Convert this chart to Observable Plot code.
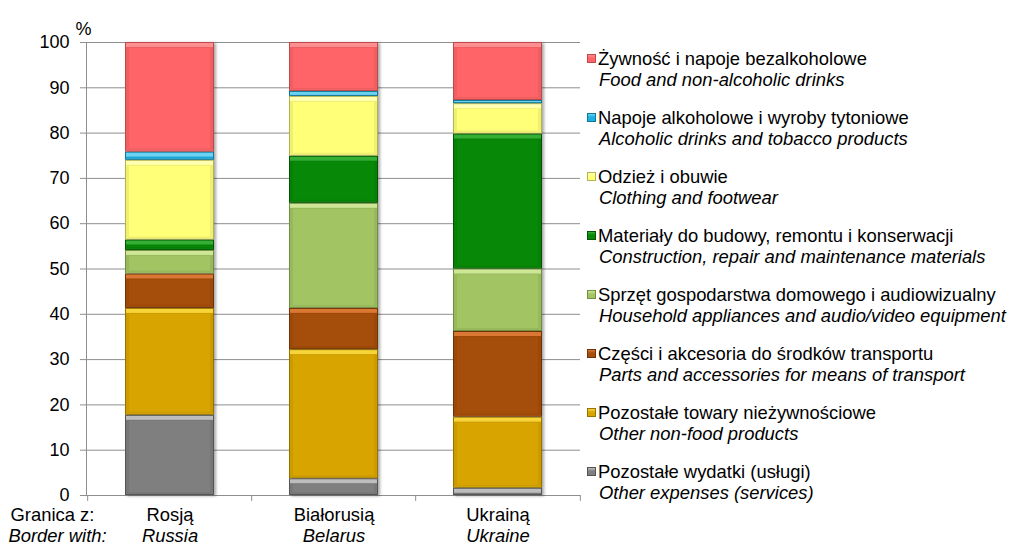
<!DOCTYPE html>
<html>
<head>
<meta charset="utf-8">
<script src="https://cdn.jsdelivr.net/npm/d3@7"></script>
<script src="https://cdn.jsdelivr.net/npm/@observablehq/plot@0.6"></script>
<style>
  html, body { margin: 0; padding: 0; background: #fff; }
  #wrap { position: relative; width: 1014px; height: 548px; font-family: "Liberation Sans", Arial, sans-serif; }
  #legend { position: absolute; left: 587px; top: 0; }
  .entry { position: absolute; left: 0; white-space: nowrap; font-size: 18.4px; line-height: 21px; color: #000; }
  .entry .pl { position: relative; padding-left: 11px; }
  .entry .en { padding-left: 12px; font-style: italic; }
  .sw { position: absolute; left: 0; top: 6px; width: 7px; height: 7px; border: 1px solid; }
</style>
</head>
<body>
<div id="wrap"><div id="legend"></div></div>
<script>
// ---- data ----
const countries = ["Rosją", "Białorusią", "Ukrainą"];
const countriesEn = ["Russia", "Belarus", "Ukraine"];
const borderPl = "Granica z:";
const borderEn = "Border with:";
// series in stacking order (bottom to top)
const seriesPl = [
  "Pozostałe wydatki (usługi)",
  "Pozostałe towary nieżywnościowe",
  "Części i akcesoria do środków transportu",
  "Sprzęt gospodarstwa domowego i audiowizualny",
  "Materiały do budowy, remontu i konserwacji",
  "Odzież i obuwie",
  "Napoje alkoholowe i wyroby tytoniowe",
  "Żywność i napoje bezalkoholowe"
];
const seriesEn = [
  "Other expenses (services)",
  "Other non-food products",
  "Parts and accessories for means of transport",
  "Household appliances and audio/video equipment",
  "Construction, repair and maintenance materials",
  "Clothing and footwear",
  "Alcoholic drinks and tobacco products",
  "Food and non-alcoholic drinks"
];
const services     = [17.7,  3.7,  1.6];
const otherNonFood = [23.6, 28.5, 15.7];
const transport    = [ 7.6,  9.1, 18.9];
const household    = [ 5.2, 23.2, 13.8];
const construction = [ 2.3, 10.4, 29.8];
const clothing     = [17.6, 13.2,  6.7];
const alcohol      = [ 1.8,  1.1,  0.7];
const food         = [24.2, 10.8, 12.8];
const yTicks = [0, 10, 20, 30, 40, 50, 60, 70, 80, 90, 100];

// ---- styles ----
const mainColors  = ["#7F7F7F", "#D8A500", "#A54D0B", "#A2C463", "#078807", "#FFFF78", "#1EB0E0", "#FF6568"];
const lightColors = ["#BDBDBD", "#F7D53A", "#D97733", "#CDE796", "#35AE35", "#FFFFB4", "#6CD2F2", "#FF8E90"];
const darkColors  = ["#555555", "#967200", "#6E3407", "#718F41", "#035503", "#B3B352", "#0F7898", "#BD494C"];

const allValues = [services, otherNonFood, transport, household, construction, clothing, alcohol, food];
const table = [];
seriesPl.forEach((s, si) => {
  countries.forEach((c, ci) => {
    table.push({country: c, series: s, si, value: allValues[si][ci]});
  });
});

const W = 1014, H = 548;
const mL = 86, mR = 434, mT = 42, mB = 53;
const step = (W - mL - mR) / countries.length;
const font = "Liberation Sans, Arial, sans-serif";
const gridColor = "#8E8E8E";
const midColors = mainColors.map(c => d3.color(c).darker(0.18).formatHex());

const bar = (fillArr, insets) => Plot.barY(table, Plot.stackY({
  x: "country", y: "value",
  fill: d => fillArr[d.si],
  ...insets
}));

const chart = Plot.plot({
  width: W, height: H,
  marginLeft: mL, marginRight: mR, marginTop: mT, marginBottom: mB,
  style: {fontFamily: font, fontSize: "18px", background: "white", color: "black"},
  x: {domain: countries, paddingInner: 0.46, paddingOuter: 0.23, axis: null},
  y: {domain: [0, 100], axis: null},
  color: {type: "identity"},
  marks: [
    Plot.gridY(yTicks, {stroke: gridColor, strokeOpacity: 1}),
    Plot.axisY({ticks: yTicks, tickSize: 6, tickPadding: 11, fontSize: 18, stroke: gridColor, fill: "black", label: null}),
    Plot.frame({anchor: "left", stroke: gridColor}),
    Plot.ruleX(countries, {x: d => d, dx: -step / 2, y1: 0, y2: -1.3, stroke: gridColor}),
    Plot.ruleX(countries.slice(-1), {x: d => d, dx: step / 2, y1: 0, y2: -1.3, stroke: gridColor}),
    bar(darkColors, {}),
    bar(lightColors, {inset: 1}),
    bar(midColors, {insetTop: 5, insetLeft: 1, insetRight: 1, insetBottom: 1}),
    bar(mainColors, {insetTop: 6, insetLeft: 4, insetRight: 4, insetBottom: 3}),
    Plot.text(countries, {x: d => d, frameAnchor: "bottom", dy: 25, fontSize: 18.4, fill: "black"}),
    Plot.text(countriesEn, {x: (d, i) => countries[i], frameAnchor: "bottom", dy: 46, fontSize: 18.4, fontStyle: "italic", fill: "black"}),
    Plot.text([borderPl], {frameAnchor: "bottom-left", textAnchor: "start", dx: -76, dy: 25, fontSize: 18.4, fill: "black"}),
    Plot.text([borderEn], {frameAnchor: "bottom-left", textAnchor: "start", dx: -78, dy: 46, fontSize: 18.4, fontStyle: "italic", fill: "black"}),
    Plot.text(["%"], {frameAnchor: "top-left", textAnchor: "middle", dx: -3, dy: -20, fontSize: 18, fill: "black"})
  ]
});

// drop shadow on the bottom bar layer
const barGroups = d3.select(chart).selectAll('g[aria-label="bar"]');
barGroups.filter((d, i) => i === 0).style("filter", "drop-shadow(2px 1px 1.5px rgba(0,0,0,0.35))");

document.getElementById("wrap").prepend(chart);

// ---- legend (top to bottom = reverse stacking order) ----
const legend = document.getElementById("legend");
const order = d3.range(seriesPl.length).reverse();
order.forEach((si, k) => {
  const e = document.createElement("div");
  e.className = "entry";
  e.style.top = (48 + k * 59) + "px";
  const pl = document.createElement("div");
  pl.className = "pl";
  const sw = document.createElement("span");
  sw.className = "sw";
  sw.style.background = `linear-gradient(${lightColors[si]}, ${mainColors[si]} 45%, ${mainColors[si]})`;
  sw.style.borderColor = darkColors[si];
  pl.appendChild(sw);
  pl.appendChild(document.createTextNode(seriesPl[si]));
  const en = document.createElement("div");
  en.className = "en";
  en.textContent = seriesEn[si];
  e.appendChild(pl);
  e.appendChild(en);
  legend.appendChild(e);
});
</script>
</body>
</html>
